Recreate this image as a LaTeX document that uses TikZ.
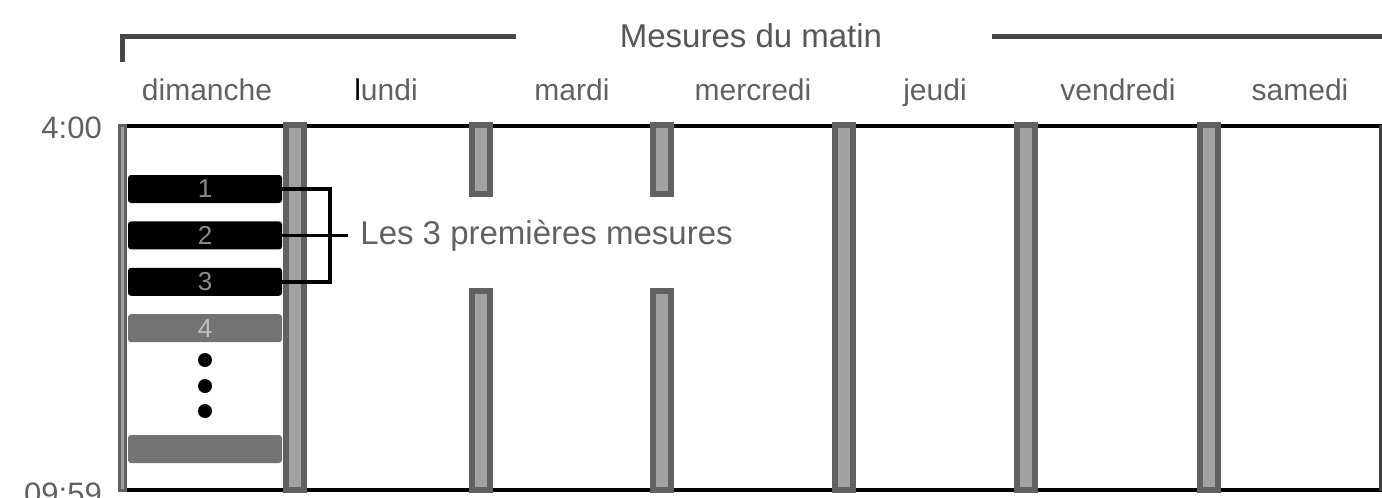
\documentclass[tikz,border=0pt]{standalone}
\usepackage{fontspec}
\setmainfont{Liberation Sans}
\usetikzlibrary{positioning}

\begin{document}
\begin{tikzpicture}[
  x=1pt,y=-1pt,
  every node/.style={inner sep=0pt,text=black!62},
  day/.style={anchor=base,font=\fontsize{30}{36}\selectfont},
  hour/.style={font=\fontsize{31}{36}\selectfont},
  slot/.style={rounded corners=3pt,fill=black,minimum width=154pt,minimum height=28pt,
    text=black!45,font=\fontsize{26}{30}\selectfont},
  sep/.style={draw=black!62,fill=black!37,line width=6pt},
  rule/.style={line width=4pt,black},
  header/.style={line width=5pt,black!72},
  brace/.style={line width=3.5pt,black},
  node distance=18pt
]
  \useasboundingbox (0,0) rectangle (1382,498);

  % grille de la semaine
  \draw[rule] (120,126) -- (1382,126);
  \draw[rule] (120,490) -- (1382,490);
  \foreach \sx/\sa/\sb in {295/125/490, 481/125/194, 481/291/490, 662/125/194, 662/291/490,
      844/125/490, 1026/125/490, 1209/125/490}
    \draw[sep] (\sx-9,\sa) rectangle (\sx+9,\sb);
  \draw[sep,line width=3pt] (119,125) rectangle (125,490);
  \draw[line width=3pt,black!75] (1380,125) -- (1380,491);

  % en-tete
  \node[font=\fontsize{33}{40}\selectfont,text=black!66,inner xsep=104pt] (title) at (751,36) {Mesures du matin};
  \draw[header] (122,62) |- (title.west);
  \draw[header] ([xshift=6pt]title.east) -- (1382,36);

  \foreach \nm/\txt/\cx in {dim/dimanche/207, lun/{\textcolor{black}{l}undi}/386, mar/mardi/572,
      mer/mercredi/753, jeu/jeudi/935, ven/vendredi/1118, sam/samedi/1300}
    \node[day] (\nm) at (\cx,100) {\txt};

  \node[hour,anchor=east] (debut) at (102,128) {4:00};
  \node[hour,anchor=north east] (fin) at (102,483) {09:59};

  % mesures du dimanche
  \node[slot] (m1) at (205,189) {1};
  \node[slot,below=of m1] (m2) {2};
  \node[slot,below=of m2] (m3) {3};
  \node[slot,below=of m3,fill=black!55,text=black!25] (m4) {4};
  \foreach \dy in {360,386,411}
    \fill (205,\dy) circle (7pt);
  \node[slot,fill=black!55] (m5) at (205,449) {};

  \node[font=\fontsize{33}{40}\selectfont,inner xsep=12pt,right=66pt of m2] (note) {Les 3 premières mesures};
  \draw[brace] (m1.east) -- ++(48,0) |- (m3.east);
  \draw[brace] (m2.east) -- (note.west);
\end{tikzpicture}
\end{document}
